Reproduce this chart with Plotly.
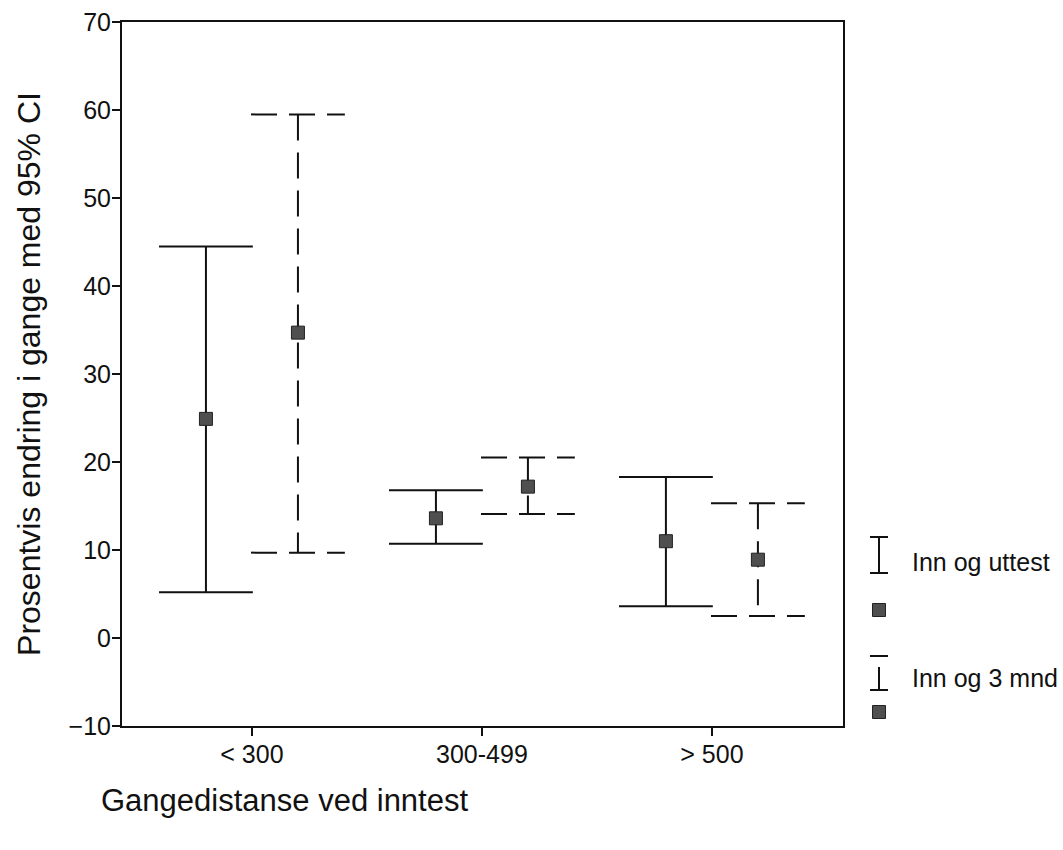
import plotly.graph_objects as go

# ---- data ----
categories = ["< 300", "300-499", "> 500"]
uttest_mean = [24.9, 13.6, 11.0]
uttest_low = [5.2, 10.7, 3.6]
uttest_high = [44.5, 16.8, 18.3]
mnd3_mean = [34.7, 17.2, 8.9]
mnd3_low = [9.7, 14.1, 2.5]
mnd3_high = [59.5, 20.5, 15.3]
series_names = ["Inn og uttest", "Inn og 3 mnd"]

# ---- style ----
FONT = "Liberation Sans, Arial, sans-serif"
OFFSET = 0.2     # cluster offset from category centre (axis units)
CAP = 0.204      # cap half-width (axis units)
LINE_COL = "#111111"
MARK_COL = "#4f4f4f"

W, H = 1063, 850
ML, MR, MT, MB = 122, 220, 22, 124
PW, PH = W - ML - MR, H - MT - MB


def whisker_xy(shift, lows, highs):
    xs, ys = [], []
    for i, (lo, hi) in enumerate(zip(lows, highs)):
        x = i + shift
        xs += [x, x, None, x - CAP, x + CAP, None, x - CAP, x + CAP, None]
        ys += [hi, lo, None, hi, hi, None, lo, lo, None]
    return xs, ys


fig = go.Figure()

xs, ys = whisker_xy(-OFFSET, uttest_low, uttest_high)
fig.add_trace(go.Scatter(x=xs, y=ys, mode="lines", name=series_names[0],
                         line=dict(color=LINE_COL, width=2),
                         showlegend=False, hoverinfo="skip"))
xs, ys = whisker_xy(OFFSET, mnd3_low, mnd3_high)
fig.add_trace(go.Scatter(x=xs, y=ys, mode="lines", name=series_names[1],
                         line=dict(color=LINE_COL, width=2, dash="26px,12px"),
                         showlegend=False, hoverinfo="skip"))

fig.add_trace(go.Scatter(x=[i - OFFSET for i in range(len(categories))], y=uttest_mean,
                         mode="markers", name=series_names[0], showlegend=False,
                         marker=dict(symbol="square", size=13, color=MARK_COL,
                                     line=dict(color="#222222", width=1))))
fig.add_trace(go.Scatter(x=[i + OFFSET for i in range(len(categories))], y=mnd3_mean,
                         mode="markers", name=series_names[1], showlegend=False,
                         marker=dict(symbol="square", size=13, color=MARK_COL,
                                     line=dict(color="#222222", width=1))))


# ---- custom legend (pixel helpers -> paper coords) ----
def px(x):
    return (x - ML) / PW


def py(y):
    return (H - MB - y) / PH


shapes = []


def seg(x0, y0, x1, y1):
    shapes.append(dict(type="line", xref="paper", yref="paper",
                       x0=px(x0), y0=py(y0), x1=px(x1), y1=py(y1),
                       line=dict(color=LINE_COL, width=2)))


def sq(cx, cy, s=13):
    shapes.append(dict(type="rect", xref="paper", yref="paper",
                       x0=px(cx - s / 2), x1=px(cx + s / 2),
                       y0=py(cy - s / 2), y1=py(cy + s / 2),
                       fillcolor=MARK_COL, line=dict(color="#222222", width=1)))


# solid I-bar
seg(879, 537, 879, 573)
seg(870, 537, 888, 537)
seg(870, 573, 888, 573)
sq(879, 610)
# dashed glyph
seg(870, 656, 888, 656)
seg(879, 667, 879, 690)
seg(870, 690, 888, 690)
sq(879, 712)

annotations = [
    dict(text=series_names[0], xref="paper", yref="paper", x=px(910), y=py(562),
         xanchor="left", yanchor="middle", showarrow=False,
         font=dict(family=FONT, size=25, color="#111111")),
    dict(text=series_names[1], xref="paper", yref="paper", x=px(910), y=py(678),
         xanchor="left", yanchor="middle", showarrow=False,
         font=dict(family=FONT, size=25, color="#111111")),
    dict(text="Gangedistanse ved inntest", xref="paper", yref="paper",
         x=px(99), y=py(800), xanchor="left", yanchor="middle", showarrow=False,
         font=dict(family=FONT, size=31, color="#111111")),
]

axis_common = dict(showline=True, linecolor=LINE_COL, linewidth=2, mirror=True,
                   ticks="outside", ticklen=8, tickwidth=2, tickcolor=LINE_COL,
                   showgrid=False, zeroline=False,
                   tickfont=dict(family=FONT, size=25, color="#111111"))

fig.update_layout(
    width=W, height=H,
    margin=dict(l=ML, r=MR, t=MT, b=MB),
    paper_bgcolor="white", plot_bgcolor="white",
    font=dict(family=FONT, color="#111111"),
    showlegend=False,
    shapes=shapes,
    annotations=annotations,
    xaxis=dict(range=[-0.565, 2.57], tickvals=list(range(len(categories))),
               ticktext=categories, ticklabelstandoff=-3, **axis_common),
    yaxis=dict(range=[-10, 70], dtick=10, automargin=False, ticklabelstandoff=-4,
               title=dict(text="Prosentvis endring i gange med 95% CI",
                          font=dict(family=FONT, size=32, color="#111111"),
                          standoff=18),
               **axis_common),
)

fig.write_html("out.html")
